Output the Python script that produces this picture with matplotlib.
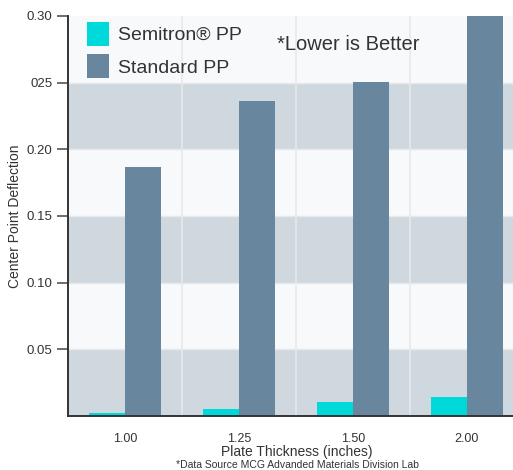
import matplotlib
matplotlib.use("Agg")
import matplotlib.pyplot as plt
import numpy as np

plt.rcParams['font.family'] = ['Liberation Sans', 'DejaVu Sans']

# data
thickness = ["1.00", "1.25", "1.50", "2.00"]
semitron_pp = [0.002, 0.005, 0.0105, 0.0143]
standard_pp = [0.187, 0.236, 0.2505, 0.31]
ytick_values = [0.05, 0.10, 0.15, 0.20, 0.25, 0.30]
ytick_labels = ["0.05", "0.10", "0.15", "0.20", "025", "0.30"]

CYAN = '#00D9D9'
SLATE = '#68869E'
BAND = '#D0D8DF'
LIGHT = '#F8F9FB'
TEXT = '#333333'

W_PX, H_PX = 513, 470
fig = plt.figure(figsize=(W_PX / 100, H_PX / 100), dpi=100)
ax = fig.add_axes([68 / W_PX, 54 / H_PX, 445 / W_PX, 400 / H_PX])
ax.set_facecolor(LIGHT)

# alternating horizontal bands
for lo in [0.0, 0.10, 0.20]:
    ax.axhspan(lo, lo + 0.05, color=BAND, zorder=0, lw=0)
for y in [0.05, 0.10, 0.15, 0.20, 0.25]:
    ax.axhline(y, color='#E6E9EC', lw=1, zorder=0.5)

x = np.arange(len(thickness))
for gx in x[:-1] + 0.5:
    ax.axvline(gx, color='#E6E9EC', lw=1.2, zorder=0.5)

W = 0.315
ax.bar(x, semitron_pp, width=-W, align='edge', color=CYAN, zorder=2, label='Semitron® PP')
ax.bar(x, standard_pp, width=W, align='edge', color=SLATE, zorder=2, label='Standard PP')

ax.set_xlim(-0.5, -0.5 + 445 / 114)
ax.set_ylim(0, 0.30)
ax.set_yticks(ytick_values)
ax.set_yticklabels(ytick_labels)
ax.set_xticks(x)
ax.set_xticklabels(thickness)
ax.tick_params(axis='y', length=8, width=1.2, color='#555555', labelsize=9.5, labelcolor=TEXT, pad=3)
ax.tick_params(axis='x', length=0, labelsize=9, labelcolor=TEXT, pad=12)

for side in ['top', 'right']:
    ax.spines[side].set_visible(False)
for side in ['left', 'bottom']:
    ax.spines[side].set_color('#333333')
    ax.spines[side].set_linewidth(1.4)

fig.text(15 / W_PX, 1 - 216 / H_PX, 'Center Point Deflection', fontsize=10, color=TEXT,
         rotation=90, ha='center', va='center')
fig.text(297 / W_PX, 1 - 452 / H_PX, 'Plate Thickness (inches)',
         fontsize=10, color=TEXT, ha='center', va='center')
fig.text(297 / W_PX, 1 - 465 / H_PX, '*Data Source MCG Advanded Materials Division Lab',
         fontsize=7.5, color=TEXT, ha='center', va='center')

leg = fig.legend(loc='upper left', bbox_to_anchor=(87 / W_PX, 1 - 22 / H_PX), frameon=False,
                 fontsize=14, handlelength=1.15, handleheight=1.5, labelspacing=0.45,
                 handletextpad=0.45, borderpad=0, borderaxespad=0, labelcolor=TEXT)

fig.text(277 / W_PX, 1 - 45 / H_PX, '*Lower is Better', fontsize=14.5, color=TEXT,
         ha='left', va='center')

fig.savefig('out.png', dpi=100)
